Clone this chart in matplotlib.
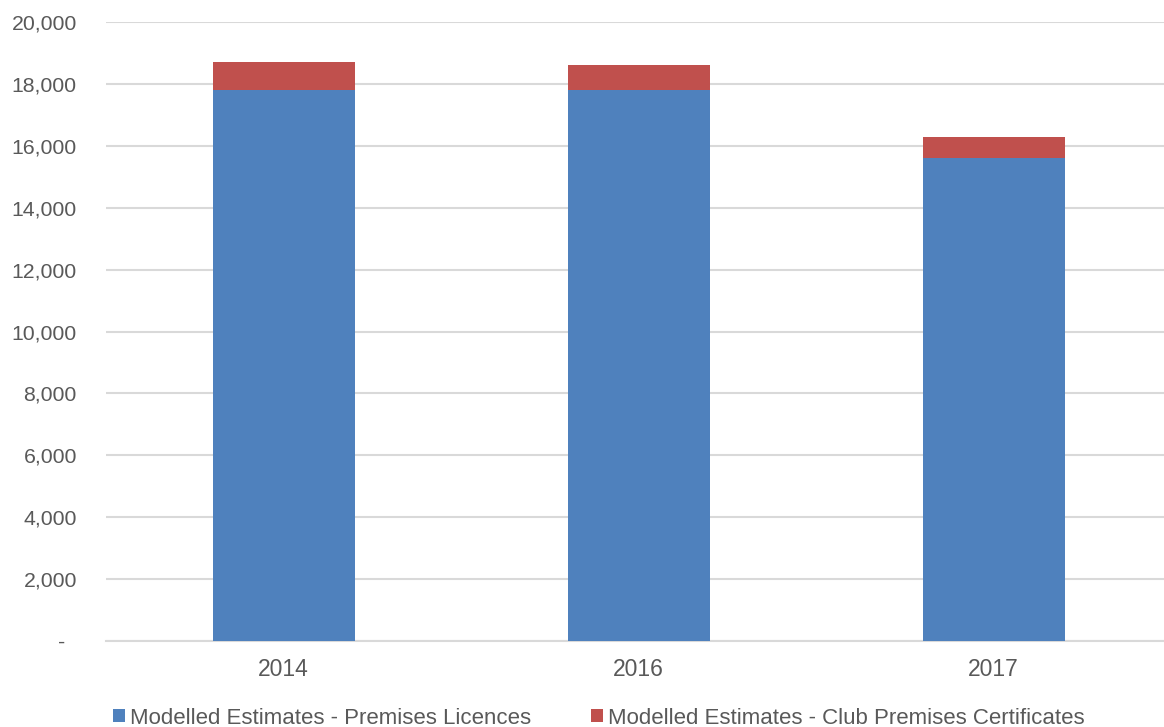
import matplotlib
matplotlib.use("Agg")
import matplotlib.pyplot as plt
from matplotlib.ticker import FuncFormatter

plt.rcParams['font.family'] = ['Liberation Sans', 'DejaVu Sans']

years = ["2014", "2016", "2017"]
premises_licences = [17800, 17800, 15600]
club_certificates = [900, 800, 700]
series_labels = ["Modelled Estimates - Premises Licences",
                 "Modelled Estimates - Club Premises Certificates"]

blue = "#4F81BD"
red = "#C0504D"
grey_text = "#595959"
grid_c = "#D9D9D9"

fig = plt.figure(figsize=(11.64, 7.27), dpi=100)
ax = fig.add_axes([106/1164, 86/727, 1 - 106/1164, (641-22)/727])

x = range(len(years))
b1 = ax.bar(x, premises_licences, width=0.4, color=blue, zorder=3)
b2 = ax.bar(x, club_certificates, width=0.4, bottom=premises_licences, color=red, zorder=3)

ax.set_xlim(-0.5, 2.48)
ax.set_ylim(0, 20000)
ax.set_yticks(range(0, 20001, 2000))
ax.yaxis.set_major_formatter(FuncFormatter(lambda v, p: "-  " if v == 0 else f"{int(v):,}"))
ax.set_xticks(list(x))
ax.set_xticklabels(years)

ax.grid(axis='y', color=grid_c, linewidth=1.5, zorder=0)
for s in ['top', 'right', 'left']:
    ax.spines[s].set_visible(False)
ax.spines['bottom'].set_color(grid_c)
ax.spines['bottom'].set_linewidth(1.5)
ax.tick_params(axis='both', length=0, labelcolor=grey_text)
ax.tick_params(axis='y', pad=21, labelsize=15.3)
ax.tick_params(axis='x', pad=12.5, labelsize=16.5)

fig.legend([b1, b2], series_labels, loc='center', bbox_to_anchor=(599/1164, 9/727),
           ncol=2, frameon=False, fontsize=16, labelcolor=grey_text,
           handlelength=0.54, handleheight=0.54, handletextpad=0.22, columnspacing=2.7,
           borderpad=0)

fig.savefig("out.png", dpi=100)
